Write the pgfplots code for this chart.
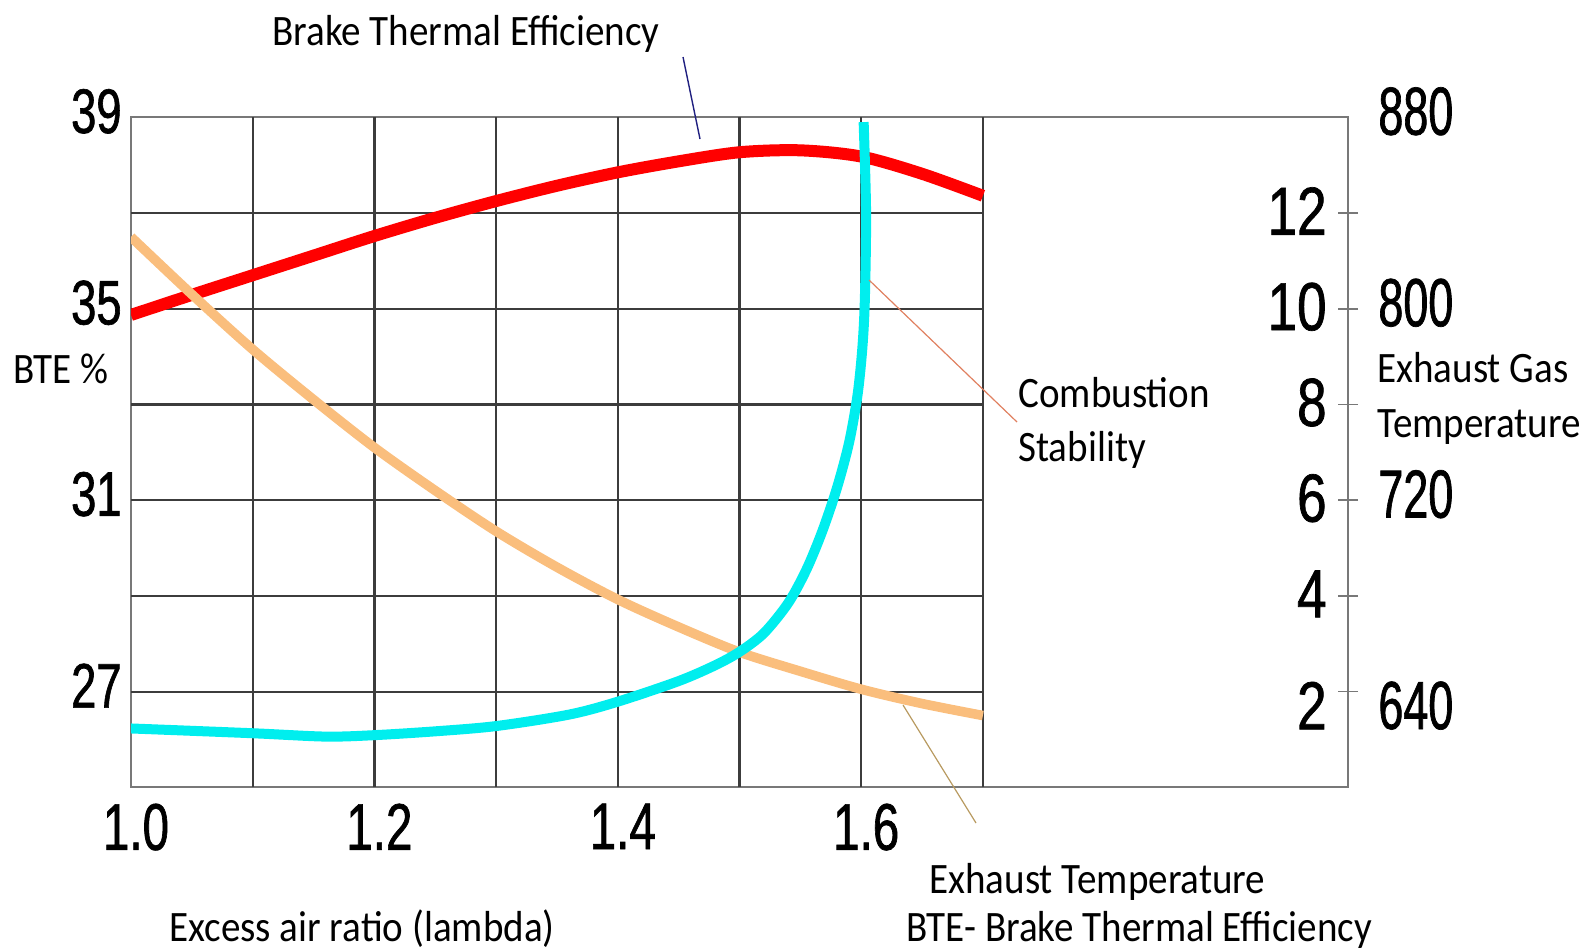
\documentclass[border=0pt]{standalone}
\usepackage{pgfplots}
\pgfplotsset{compat=1.18}
\usepackage{fontspec}
\setmainfont{Carlito}
\newfontfamily\lblfont[FakeStretch=0.90]{Carlito}
\newfontfamily\tickL[FakeStretch=0.72,FakeBold=1]{Liberation Sans}
\newfontfamily\tickS[FakeStretch=0.78,FakeBold=1]{Liberation Sans}
\newfontfamily\tickT[FakeStretch=0.66,FakeBold=1]{Liberation Sans}
\newcommand\lbl{\lblfont\fontsize{21.7pt}{26pt}\selectfont}

\definecolor{bteRed}{RGB}{255,0,0}
\definecolor{stabCyan}{RGB}{0,238,238}
\definecolor{exhOrange}{RGB}{250,190,125}
\definecolor{gridDark}{RGB}{60,60,60}
\definecolor{frameGray}{RGB}{120,120,120}
\definecolor{leadBlue}{RGB}{32,32,128}
\definecolor{leadSalmon}{RGB}{224,128,96}
\definecolor{leadTan}{RGB}{184,154,96}

\begin{document}
\begin{tikzpicture}[x=1pt,y=1pt]
\useasboundingbox (0,0) rectangle (794.5,-475);
\pgfplotsset{
  base/.style={
    at={(65.5pt,-393.65pt)}, anchor=south west,
    scale only axis, width=608.5pt, height=335pt,
    xmin=1, xmax=2,
    /pgf/number format/assume math mode=true,
  },
}

% BTE axis, frame and grid
\begin{axis}[base, ymin=25, ymax=39,
  axis line style={frameGray, line width=1pt},
  xtick={1,1.2,1.4,1.6}, xticklabels={1.0,1.2,1.4,1.6},
  ytick={27,31,35,39}, yticklabels={27,31,35,39},
  major tick length=0pt,
  xticklabel style={font={\tickL\fontsize{33pt}{33pt}\selectfont}, anchor=north, inner sep=0pt, yshift=-8pt, xshift=2.5pt},
  yticklabel style={font={\tickL\fontsize{31.5pt}{32pt}\selectfont}, anchor=east, inner sep=0pt, xshift=-4.5pt, yshift=3pt},
]
\pgfplotsinvokeforeach{1.1,1.2,1.3,1.4,1.5,1.6,1.7}{
  \draw[gridDark, line width=1.1pt] (axis cs:#1,25) -- (axis cs:#1,39);
}
\pgfplotsinvokeforeach{27,29,31,33,35,37}{
  \draw[gridDark, line width=1.1pt] (axis cs:1,#1) -- (axis cs:1.7,#1);
}
\addplot[bteRed, line width=6pt, smooth] coordinates {
  (1.00,34.87) (1.05,35.29) (1.10,35.70) (1.15,36.11) (1.20,36.52)
  (1.25,36.90) (1.30,37.25) (1.35,37.57) (1.40,37.85) (1.45,38.08)
  (1.50,38.27) (1.55,38.31) (1.60,38.18) (1.65,37.82) (1.70,37.36)
};
\end{axis}

% exhaust gas temperature axis
\begin{axis}[base, ymin=600, ymax=880,
  axis x line=none, axis y line*=right, xtick=\empty,
  y axis line style={frameGray, line width=1pt},
  major tick length=0pt,
  ytick={720,800,880}, extra y ticks={640},
  yticklabel style={font={\tickT\fontsize{34pt}{34pt}\selectfont}, anchor=west, inner sep=0pt, xshift=15pt, yshift=3pt},
  extra y tick style={yticklabel style={yshift=-10pt}},
]
\addplot[exhOrange, line width=4.8pt, smooth] coordinates {
  (1.00,830) (1.05,806) (1.10,783) (1.15,762) (1.20,742)
  (1.25,724) (1.30,707) (1.35,692) (1.40,678.5) (1.45,667)
  (1.50,656.5) (1.55,648.5) (1.60,641) (1.65,635) (1.70,630)
};
\end{axis}

% combustion stability axis
\begin{axis}[base, ymin=0, ymax=14,
  axis x line=none, axis y line*=right, xtick=\empty,
  y axis line style={frameGray, line width=1pt},
  ytick={4,6,8,10,12}, extra y ticks={2},
  tick align=center, major tick length=10pt,
  tick style={frameGray, line width=0.8pt},
  yticklabel style={font={\tickS\fontsize{34pt}{34pt}\selectfont}, anchor=east, inner sep=0pt, xshift=-15.5pt, yshift=1pt},
  extra y tick style={yticklabel style={yshift=-8pt}},
]
\addplot[stabCyan, line width=5pt, smooth] coordinates {
  (1.000,1.23) (1.10,1.13) (1.16,1.06) (1.20,1.09) (1.25,1.17)
  (1.30,1.28) (1.36,1.52) (1.40,1.79) (1.45,2.22) (1.48,2.55)
  (1.50,2.83) (1.52,3.22) (1.54,3.85) (1.555,4.55) (1.568,5.35)
  (1.580,6.25) (1.590,7.20) (1.597,8.20) (1.601,9.20) (1.603,10.2)
  (1.604,12.0) (1.602,13.9)
};
\end{axis}

% annotations
\node[anchor=base west, inner sep=0pt, font=\lbl] at (136,-22.5) {Brake Thermal Efficiency};
\draw[leadBlue, line width=0.7pt] (341.5,-28.5) -- (350,-69.5);
\node[anchor=base west, inner sep=0pt, font=\lbl] at (6.5,-191.5) {BTE \%};
\node[anchor=base west, inner sep=0pt, font=\lbl] at (509,-203.5) {Combustion};
\node[anchor=base west, inner sep=0pt, font=\lbl] at (509,-230.5) {Stability};
\draw[leadSalmon, line width=0.6pt] (434.5,-140) -- (508.5,-211);
\node[anchor=base west, inner sep=0pt, font=\lbl] at (688.5,-191) {Exhaust Gas};
\node[anchor=base west, inner sep=0pt, font=\lbl] at (688.5,-218.5) {Temperature};
\node[anchor=base west, inner sep=0pt, font=\lbl] at (464.5,-446.5) {Exhaust Temperature};
\node[anchor=base west, inner sep=0pt, font=\lbl] at (453,-470.5) {BTE- Brake Thermal Efficiency};
\draw[leadTan, line width=0.6pt] (451.5,-352.5) -- (488,-411.5);
\node[anchor=base west, inner sep=0pt, font=\lbl] at (84.5,-470.5) {Excess air ratio (lambda)};
\end{tikzpicture}
\end{document}
